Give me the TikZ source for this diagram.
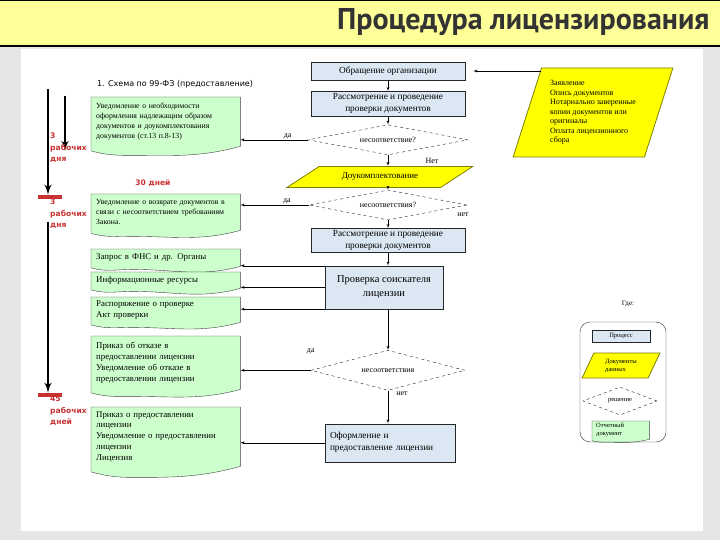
\documentclass[tikz,border=0pt]{standalone}
\usepackage{fontspec}
\setmainfont{Liberation Serif}
\newfontfamily\sansfont{DejaVu Sans}
\newfontfamily\titlefont{PT Sans}
\usepackage{xcolor}
\usepackage{tikz}
\usetikzlibrary{shapes.geometric, arrows, positioning, calc, backgrounds}

\pgfdeclarelayer{slide}
\pgfsetlayers{slide,background,main}

\definecolor{bannery}{HTML}{FFFF99}
\definecolor{procblue}{HTML}{DBE7F3}
\definecolor{docgreen}{HTML}{CCFFCC}
\definecolor{datayellow}{HTML}{FFFF00}
\definecolor{dataedge}{HTML}{7F7F00}
\definecolor{termred}{HTML}{C83232}
\definecolor{slidegray}{HTML}{E6E6E6}
\definecolor{titlegray}{HTML}{333333}

% outline of a document node: #1 node, #2 depth of the wave
\newcommand{\docwave}[2]{%
  \begin{pgfonlayer}{background}
    \coordinate (#1-trough) at ($(#1.south east)!0.72!(#1.south west)$);
    \coordinate (#1-left) at (#1.south west);
    \filldraw[docline] (#1.north west) -- (#1.north east) -- (#1.south east)
      to[out=195, in=0] ([yshift=-#2 pt]#1-trough)
      to[out=180, in=-15] ([yshift=-0.5*#2 pt]#1-left) -- cycle;
  \end{pgfonlayer}}

\begin{document}
\begin{tikzpicture}[x=1pt, y=-1pt,
    proc/.style={rectangle, draw=black!85, fill=procblue, inner sep=2pt, align=center, font=\fontsize{9.3}{12}\selectfont},
    decision/.style={diamond, draw=black!85, dashed, fill=white, inner sep=0pt, aspect=5, font=\fontsize{8}{10}\selectfont},
    datain/.style={trapezium, trapezium stretches=true, draw=dataedge, thick, fill=datayellow, inner sep=2pt},
    doc/.style={rectangle, inner xsep=5pt, inner ysep=2pt, align=left, text width=139pt, font=\fontsize{8.8}{10.8}\selectfont},
    docline/.style={draw=black!75, fill=docgreen},
    lbl/.style={font=\fontsize{8}{9}\selectfont, inner sep=1pt},
    days/.style={font=\sansfont\bfseries\fontsize{7.6}{11.5}\selectfont, text=termred, align=left, inner sep=0pt},
    bar/.style={fill=termred, minimum width=24pt, minimum height=4pt, inner sep=0pt},
    arrow/.style={draw=black, -latex', thin},
    bigarrow/.style={draw=black, -latex', line width=2.5pt}]

    \useasboundingbox (0,0) rectangle (720,540);

    % slide
    \begin{pgfonlayer}{slide}
        \fill[slidegray] (0,0) rectangle (720,540);
        \fill[white] (21,49) rectangle (703,531);
        \fill[bannery] (0,0) rectangle (720,46);
        \draw[line width=1.5pt] (0,0.75) -- (720,0.75) (0,46) -- (720,46);
    \end{pgfonlayer}
    \node[anchor=east, font=\titlefont\bfseries\fontsize{30}{32}\selectfont, text=titlegray] (title) at (713,22) {Процедура лицензирования};
    \node[font=\sansfont\fontsize{8}{10}\selectfont] (scheme) at (175,84) {1. Схема по 99-ФЗ (предоставление)};

    % main chain
    \node[proc, minimum width=154pt, minimum height=18pt] (org) at (388,71) {Обращение организации};
    \node[proc, minimum width=154pt, minimum height=25pt, below=11pt of org] (rev1) {Рассмотрение и проведение\\проверки документов};
    \node[decision, minimum width=160pt, minimum height=30pt, below=8pt of rev1] (d1) {несоответствие?};
    \node[datain, minimum width=186pt, minimum height=21pt, trapezium left angle=29, trapezium right angle=151,
          font=\fontsize{9}{11}\selectfont, below=11pt of d1, xshift=-8pt] (dop) {Доукомплектование};
    \node[decision, minimum width=158pt, minimum height=30pt, below=2pt of dop, xshift=8pt] (d2) {несоответствия?};
    \node[proc, minimum width=154pt, minimum height=24pt, below=8pt of d2] (rev2) {Рассмотрение и проведение\\проверки документов};
    \node[proc, minimum width=118pt, minimum height=43pt, font=\fontsize{10.5}{14}\selectfont, below=13pt of rev2, xshift=-4pt] (chk) {Проверка соискателя\\лицензии};
    \node[decision, minimum width=154pt, minimum height=40pt, below=41pt of chk, xshift=4pt] (d3) {несоответствия};
    \node[proc, minimum width=130pt, minimum height=38pt, text width=120pt, align=left, below=33pt of d3, xshift=2pt] (fin) {Оформление и\\предоставление лицензии};

    % input documents
    \node[datain, minimum width=160pt, minimum height=89pt, trapezium left angle=70, trapezium right angle=110,
          align=left, font=\fontsize{8}{9.5}\selectfont] (inp) at (593,112.5) {Заявление\\Опись документов\\Нотариально заверенные\\копии документов или\\оригиналы\\Оплата лицензионного\\сбора};

    % output documents
    \node[doc, minimum height=49pt, font=\fontsize{7.8}{9.8}\selectfont, anchor=north west] (b1) at (91,97) {Уведомление о необходимости\\оформления надлежащим образом\\документов и доукомплектования\\документов (ст.13 п.8-13)};
    \node[doc, minimum height=36pt, font=\fontsize{7.8}{9.8}\selectfont, anchor=north west] (b2) at (91,194) {Уведомление о возврате документов в\\связи с несоответствием требованиям\\Закона.};
    \node[doc, minimum height=17pt, anchor=north west] (b3) at (91,249) {Запрос в ФНС и др. Органы};
    \node[doc, minimum height=16pt, anchor=north west] (b4) at (91,272) {Информационные ресурсы};
    \node[doc, minimum height=25pt, anchor=north west] (b5) at (91,297) {Распоряжение о проверке\\Акт проверки};
    \node[doc, minimum height=53pt, anchor=north west] (b6) at (91,336) {Приказ об отказе в\\предоставлении лицензии\\Уведомление об отказе в\\предоставлении лицензии};
    \node[doc, minimum height=59pt, anchor=north west] (b7) at (91,407) {Приказ о предоставлении\\лицензии\\Уведомление о предоставлении\\лицензии\\Лицензия};
    \docwave{b1}{9}
    \docwave{b2}{6}
    \docwave{b3}{3}
    \docwave{b4}{3}
    \docwave{b5}{5}
    \docwave{b6}{7}
    \docwave{b7}{11}

    % terms
    \node[bar] (bar1) at (50,197) {};
    \node[bar] (bar2) at (50,395) {};
    \coordinate (top1) at (48,89);
    \coordinate (top2) at (65,96);
    \coordinate (end2) at (65,151);
    \coordinate (top3) at (48,222);
    \draw[bigarrow] (top1) -- (top1 |- bar1.north);
    \draw[bigarrow] (top2) -- (end2);
    \draw[bigarrow] (top3) -- (top3 |- bar2.north);
    \node[days, anchor=north west] (days1) at (50,133) {3\\рабочих\\дня};
    \node[days, anchor=north west] (days2) at (50,199) {3\\рабочих\\дня};
    \node[days, anchor=north west] (days3) at (50,396) {45\\рабочих\\дней};
    \node[days] (days30) at (153,183) {30 дней};

    % connectors
    \path[arrow] (inp.top left corner |- org.east) -- ([xshift=8pt]org.east);
    \path[arrow] (org) -- (rev1);
    \path[arrow] (rev1) -- (d1);
    \path[arrow] (d1.south) -- (d1.south |- dop.north) node[lbl, pos=0.5, xshift=44pt] {Нет};
    \path[arrow] (d2.north |- dop.south) -- (d2.north);
    \path[arrow] (d2) -- (rev2) node[lbl, pos=0, xshift=75pt, yshift=6pt] {нет};
    \path[arrow] (rev2.south) -- (rev2.south |- chk.north);
    \path[arrow] (d3.north |- chk.south) -- (d3.north);
    \path[arrow] (d3.south) -- (d3.south |- fin.north) node[lbl, pos=0.1, xshift=14pt] {нет};
    \path[arrow] (d1.west) -- (d1.west -| b1.east) node[lbl, above, pos=0.3] {да};
    \path[arrow] (d2.west) -- (d2.west -| b2.east) node[lbl, above, pos=0.32] {да};
    \path[arrow] (chk.north west) -- (chk.north west -| b3.east);
    \path[arrow] (chk.west) -- (chk.west -| b4.east);
    \path[arrow] (chk.south west) -- (chk.south west -| b5.east);
    \path[arrow] (d3.west) -- (d3.west -| b6.east) node[lbl, pos=0, yshift=19pt] {да};
    \path[arrow] (fin.west) -- (fin.west -| b7.east);

    % legend
    \node[lbl, font=\fontsize{7}{8}\selectfont] (where) at (628,304) {Где:};
    \draw[rounded corners=10pt, draw=black!80] (580,322) rectangle (666,442);
    \node[proc, minimum width=58pt, minimum height=12pt, font=\fontsize{6.5}{8}\selectfont] (lproc) at (621,336) {Процесс};
    \node[datain, minimum width=78pt, minimum height=25pt, trapezium left angle=66, trapezium right angle=114,
          align=left, font=\fontsize{6.5}{8}\selectfont] (ldata) at (621,365.5) {Документы\\данных};
    \node[decision, minimum width=74pt, minimum height=28pt, font=\fontsize{6.5}{8}\selectfont] (ldec) at (620,401) {решение};
    \node[doc, text width=49pt, inner xsep=4pt, minimum height=16pt, font=\fontsize{6.5}{8}\selectfont, anchor=north west] (ldoc) at (592,421) {Отчетный\\документ};
    \docwave{ldoc}{3}
\end{tikzpicture}
\end{document}
